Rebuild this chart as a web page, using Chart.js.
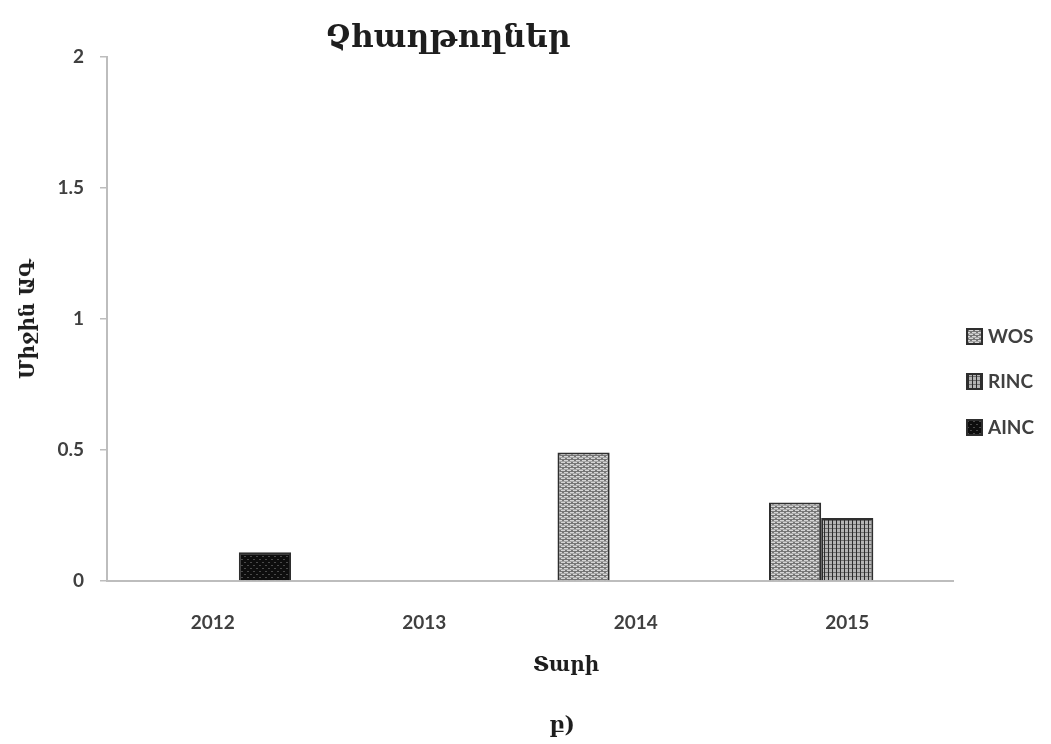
<!DOCTYPE html>
<html><head><meta charset="utf-8">
<script src="https://cdn.jsdelivr.net/npm/chart.js@4.4.0/dist/chart.umd.min.js"></script>
<style>
html,body{margin:0;padding:0;background:#fff;}
#wrap{position:relative;width:1051px;height:744px;overflow:hidden;}
#c{position:absolute;left:0;top:0;}
.lbl{position:absolute;font-family:"DejaVu Serif","DejaVu Sans",serif;font-weight:bold;color:#1e1e1e;white-space:nowrap;transform:translate(-50%,-50%);line-height:1;}
</style></head>
<body><div id="wrap"><canvas id="c" width="1051" height="744"></canvas>
<div class="lbl" style="left:448px;top:36px;font-size:31px;">Չհաղթողներ</div>
<div class="lbl" style="left:27px;top:319px;font-size:20px;transform:translate(-50%,-50%) rotate(-90deg);">Միջին ԱԳ</div>
<div class="lbl" style="left:566px;top:664px;font-size:20px;">Տարի</div>
<div class="lbl" style="left:562px;top:724px;font-size:22px;">բ)</div>
</div>
<script>
const categories = ['2012', '2013', '2014', '2015'];
const seriesNames = ['WOS', 'RINC', 'AINC'];
const wosValues = [null, null, 0.49, 0.30];
const rincValues = [null, null, null, 0.24];
const aincValues = [0.11, null, null, null];
const yTicks = [0, 0.5, 1, 1.5, 2];

function makePattern(kind){
  const c = document.createElement('canvas');
  const x = c.getContext('2d');
  if(kind === 'wos'){
    c.width = 6; c.height = 4;
    x.fillStyle = '#767676'; x.fillRect(0,0,6,4);
    x.fillStyle = '#d6d6d6'; x.fillRect(0,0,4,1); x.fillRect(3,2,3,1); x.fillRect(0,2,1,1);
    x.fillStyle = '#a4a4a4'; x.fillRect(0,1,6,1);
  } else if(kind === 'rinc'){
    c.width = 4; c.height = 4;
    x.fillStyle = '#b4b4b4'; x.fillRect(0,0,4,4);
    x.fillStyle = '#6c6c6c'; x.fillRect(0,0,4,1);
    x.fillStyle = '#2c2c2c'; x.fillRect(0,0,1,4);
  } else {
    c.width = 6; c.height = 6;
    x.fillStyle = '#0e0e0e'; x.fillRect(0,0,6,6);
    x.fillStyle = '#4a4a4a'; x.fillRect(1,1,2,1); x.fillRect(4,4,2,1);
  }
  return x.createPattern(c, 'repeat');
}
const fills = [makePattern('wos'), makePattern('rinc'), makePattern('ainc')];

const legendPlugin = {
  id: 'sideLegend',
  afterDraw(chart){
    const ctx = chart.ctx;
    const ys = [336, 381, 427];
    ctx.save();
    chart.data.datasets.forEach((ds, i) => {
      const y = ys[i];
      ctx.fillStyle = ds.backgroundColor;
      ctx.fillRect(967, y - 7, 15, 15);
      ctx.strokeStyle = '#2e2e2e'; ctx.lineWidth = 2;
      ctx.strokeRect(967, y - 7, 15, 15);
      ctx.fillStyle = '#404040';
      ctx.font = 'bold 19px Lato';
      ctx.textBaseline = 'middle';
      ctx.textAlign = 'left';
      ctx.fillText(ds.label, 988, y + 1);
    });
    ctx.restore();
  }
};

const dataArrays = [wosValues, rincValues, aincValues];
new Chart(document.getElementById('c'), {
  type: 'bar',
  data: {
    labels: categories,
    datasets: seriesNames.map((n, i) => ({
      label: n,
      data: dataArrays[i],
      backgroundColor: fills[i],
      borderColor: '#2e2e2e',
      borderWidth: 2,
      categoryPercentage: 0.74,
      barPercentage: 1.0
    }))
  },
  options: {
    responsive: false,
    animation: false,
    layout: { padding: { top: 57, right: 98, left: 0, bottom: 0 } },
    plugins: { legend: { display: false }, tooltip: { enabled: false }, title: { display: false } },
    scales: {
      x: {
        grid: { display: false },
        border: { display: true, color: '#bdbdbd', width: 2 },
        ticks: { color: '#404040', font: { family: 'Lato', weight: 'bold', size: 19 }, padding: 22 },
        afterFit(s){ s.height = 744 - 581; }
      },
      y: {
        min: 0, max: 2,
        afterBuildTicks(s){ s.ticks = yTicks.map(v => ({ value: v })); },
        grid: { drawOnChartArea: false, drawTicks: true, tickLength: 7, color: '#bdbdbd', lineWidth: 1.5 },
        border: { display: true, color: '#bdbdbd', width: 2 },
        ticks: { color: '#404040', font: { family: 'Lato', weight: 'bold', size: 19 }, padding: 16,
                 callback: v => String(v) },
        afterFit(s){ s.width = 107; }
      }
    }
  },
  plugins: [legendPlugin]
});
</script>
</body></html>
